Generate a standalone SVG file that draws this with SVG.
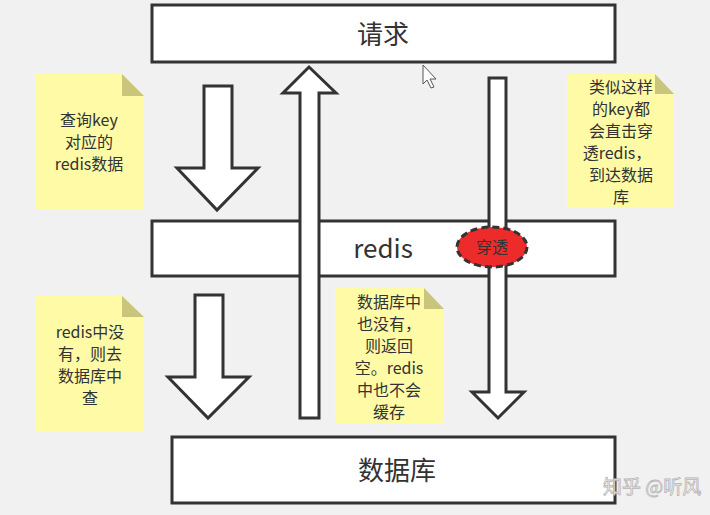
<svg xmlns="http://www.w3.org/2000/svg" width="710" height="515" viewBox="0 0 710 515">
<style>
.box{fill:#fff;stroke:#333;stroke-width:3}
.arr{fill:#fff;stroke:#333;stroke-width:3;stroke-linejoin:miter}
.note{fill:#fefaa6}
.fold{fill:#c9c57c}
.big{font-family:"Noto Sans CJK SC",sans-serif;font-size:26px;fill:#333;text-anchor:middle}
.nt{font-family:"Noto Sans CJK SC",sans-serif;font-size:16px;fill:#333;text-anchor:middle}
</style>
<rect width="710" height="515" fill="#f1f1f1"/>
<g id="node-request"><rect class="box" x="152" y="5" width="463" height="57"/><text class="big" x="383" y="44">请求</text></g>
<g id="node-redis"><rect class="box" x="152" y="221" width="463" height="55"/><text class="big" x="383" y="258">redis</text></g>
<g id="node-db"><rect class="box" x="172" y="437" width="443" height="66"/><text class="big" x="397" y="480">数据库</text></g>
<g id="connectors">
<path class="arr" d="M204,86 H232 V168 H258 L217,210 L177,168 H204 Z"/>
<path class="arr" d="M300,418 V93 H283 L309,67 L336,93 H319 V418 Z"/>
<path class="arr" d="M489,78 H506 V392 H524 L498,418 L472,392 H489 Z"/>
<path class="arr" d="M195,295 H223 V377 H249 L208,418 L168,377 H195 Z"/>
</g>
<g id="node-penetrate"><ellipse cx="492" cy="247" rx="35" ry="20" fill="#ee2b2b" stroke="#333" stroke-width="3" stroke-dasharray="7,4"/><text x="492" y="253" font-family="'Noto Sans CJK SC',sans-serif" font-size="16" fill="#333" text-anchor="middle">穿透</text></g>
<g id="note-1"><path class="note" d="M36,74 H122 L144,96 V209 H36 Z"/><path class="fold" d="M122,74 L144,96 H122 Z"/>
<text class="nt" x="89" y="126">查询key</text><text class="nt" x="89" y="148">对应的</text><text class="nt" x="89" y="170">redis数据</text></g>
<g id="note-2"><path class="note" d="M567,74 H655 L674,94 V208 H567 Z"/><path class="fold" d="M655,74 L674,94 H655 Z"/>
<text class="nt" x="621" y="93">类似这样</text><text class="nt" x="621" y="115">的key都</text><text class="nt" x="621" y="137">会直击穿</text><text class="nt" x="617" y="159">透redis，</text><text class="nt" x="621" y="181">到达数据</text><text class="nt" x="621" y="203">库</text></g>
<g id="note-3"><path class="note" d="M36,296 H122 L144,317 V431 H36 Z"/><path class="fold" d="M122,296 L144,317 H122 Z"/>
<text class="nt" x="90" y="338">redis中没</text><text class="nt" x="90" y="360">有，则去</text><text class="nt" x="90" y="382">数据库中</text><text class="nt" x="90" y="404">查</text></g>
<g id="note-4"><path class="note" d="M335,288 H424 L444,309 V423 H335 Z"/><path class="fold" d="M424,288 L444,309 H424 Z"/>
<text class="nt" x="389" y="308">数据库中</text><text class="nt" x="389" y="330">也没有，</text><text class="nt" x="389" y="352">则返回</text><text class="nt" x="389" y="374">空。redis</text><text class="nt" x="389" y="396">中也不会</text><text class="nt" x="389" y="418">缓存</text></g>
<path d="M423,65 V84 L427,80 L431,88 L434,87 L430,79 L436,79 Z" fill="#fff" stroke="#555" stroke-width="1"/>
<text x="603" y="494" font-family="'Noto Sans CJK SC',sans-serif" font-size="19" fill="#fff" stroke="#b5b5b5" stroke-width="0.8">知乎 @听风</text>
</svg>
